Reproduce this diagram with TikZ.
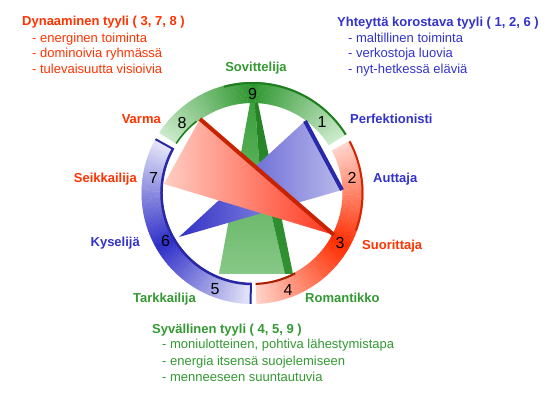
\documentclass[tikz,border=0pt]{standalone}
\usepackage{fontspec}
\setmainfont{Liberation Sans}
\definecolor{txtred}{RGB}{255,51,0}
\definecolor{txtblue}{RGB}{51,51,204}
\definecolor{txtgreen}{RGB}{51,153,51}
\definecolor{ringGdark}{RGB}{45,150,45}
\definecolor{ringGlight}{RGB}{205,235,205}
\definecolor{ringRdark}{RGB}{255,45,0}
\definecolor{ringRlight}{RGB}{255,212,202}
\definecolor{ringBdark}{RGB}{45,45,200}
\definecolor{ringBlight}{RGB}{230,230,248}
\definecolor{edgeG}{RGB}{30,125,30}
\definecolor{edgeR}{RGB}{215,35,0}
\definecolor{edgeRi}{RGB}{170,30,0}
\definecolor{edgeB}{RGB}{40,40,165}
\definecolor{wedgeRlight}{RGB}{255,205,195}
\definecolor{wedgeRdark}{RGB}{255,55,30}
\definecolor{wedgeRline}{RGB}{200,35,0}
\definecolor{wedgeBdark}{RGB}{50,50,200}
\definecolor{wedgeBlight}{RGB}{185,185,235}
\definecolor{wedgeBline}{RGB}{40,40,170}
\definecolor{wedgeGtop}{RGB}{60,160,60}
\definecolor{wedgeGbot}{RGB}{135,200,135}
\definecolor{wedgeGdtop}{RGB}{35,130,35}
\definecolor{wedgeGdbot}{RGB}{50,145,50}
\tikzset{
  titletxt/.style={anchor=west, inner sep=0pt, text height=9.3pt, text depth=0pt, font=\fontsize{13}{13}\selectfont\bfseries},
  itemtxt/.style={anchor=west, inner sep=0pt, text height=9.3pt, text depth=0pt, font=\fontsize{13}{13}\selectfont},
  labtxt/.style={inner sep=0pt, text height=9.3pt, text depth=0pt, font=\fontsize{13}{13}\selectfont\bfseries},
  numtxt/.style={inner sep=0pt, text height=11.5pt, text depth=0pt, font=\fontsize{16}{16}\selectfont},
}
\begin{document}
\begin{tikzpicture}[x=1pt,y=1pt]
\fill[white] (0,0) rectangle (559,399);
\useasboundingbox (0,0) rectangle (559,399);

% ---------- ring ----------
\begin{scope}[shift={(252.5,206)}]
\foreach \a in {32,...,146}{
  \pgfmathtruncatemacro\t{max(0,min(100,100*(1-abs(\a+0.5-90)/58)))}
  \fill[ringGdark!\t!ringGlight] ({\a}:90) arc[start angle=\a, end angle=\a+1.2, radius=90]
     -- ({\a+1.2}:111) arc[start angle=\a+1.2, end angle=\a, radius=111] -- cycle;
}
\foreach \a in {-88,...,27}{
  \pgfmathtruncatemacro\t{max(0,min(100,100*(1-abs(\a+0.5+30)/58)))}
  \fill[ringRdark!\t!ringRlight] ({\a}:90) arc[start angle=\a, end angle=\a+1.2, radius=90]
     -- ({\a+1.2}:111) arc[start angle=\a+1.2, end angle=\a, radius=111] -- cycle;
}
\foreach \a in {151,...,268}{
  \pgfmathtruncatemacro\t{max(0,min(100,100*(1-abs(\a+0.5-210)/59)))}
  \fill[ringBdark!\t!ringBlight] ({\a}:90) arc[start angle=\a, end angle=\a+1.2, radius=90]
     -- ({\a+1.2}:111) arc[start angle=\a+1.2, end angle=\a, radius=111] -- cycle;
}
% edge strokes
\draw[edgeG, line width=2pt] (105:110) arc[start angle=105, end angle=32, radius=110];
\draw[edgeG, line width=1.5pt] (147:91) arc[start angle=147, end angle=128, radius=91];
\draw[edgeR, line width=2pt] (28:110) arc[start angle=28, end angle=-20, radius=110];
\draw[edgeRi, line width=2pt] (-88:91) arc[start angle=-88, end angle=-62, radius=91];
\draw[edgeB, line width=2.5pt] (151:91) arc[start angle=151, end angle=269, radius=91];
\draw[edgeB, line width=2pt] (151:90) -- (151:111);
\draw[edgeB, line width=2pt] (269:90) -- (269:111);
\end{scope}

% ---------- inner wedges ----------
% green (4,5,9)
\shade[top color=wedgeGtop, bottom color=wedgeGbot]
  (250,296) -- (255,296) -- (259,239) -- (285,125) -- (219,125) -- cycle;
\shade[top color=wedgeGdtop, bottom color=wedgeGdbot]
  (255,296) -- (258,296) -- (293,125) -- (285,125) -- (259,239) -- cycle;
% blue (1,2,6)
\shade[left color=wedgeBdark, right color=wedgeBlight]
  (179,162) -- (305,278) -- (342,209) -- cycle;
\draw[wedgeBline, line width=4pt] (305,278) -- (342,209);
% red (3,7,8)
\shade[left color=wedgeRlight, right color=wedgeRdark]
  (200,280) -- (164,215) -- (334,164) -- cycle;
\draw[wedgeRline, line width=4pt] (200,280) -- (334,164);

% ---------- numbers ----------
\node[numtxt] (n9) at (252.5,305) {9};
\node[numtxt] (n1) at (322,277) {1};
\node[numtxt] (n2) at (352,221) {2};
\node[numtxt] (n3) at (340,156) {3};
\node[numtxt] (n4) at (288,109) {4};
\node[numtxt] (n5) at (215,110) {5};
\node[numtxt] (n6) at (165.5,158) {6};
\node[numtxt] (n7) at (153.5,221) {7};
\node[numtxt] (n8) at (182,276) {8};

% ---------- type labels ----------
\node[labtxt, txtgreen] (l9) at (256,332) {Sovittelija};
\node[labtxt, txtblue, anchor=west] (l1) at (350,280) {Perfektionisti};
\node[labtxt, txtblue, anchor=west] (l2) at (373,221) {Auttaja};
\node[labtxt, txtred, anchor=west] (l3) at (362,154) {Suorittaja};
\node[labtxt, txtgreen, anchor=west] (l4) at (305,101) {Romantikko};
\node[labtxt, txtgreen, anchor=east] (l5) at (196,101) {Tarkkailija};
\node[labtxt, txtblue, anchor=east] (l6) at (140,157) {Kyselijä};
\node[labtxt, txtred, anchor=east] (l7) at (137,221) {Seikkailija};
\node[labtxt, txtred, anchor=east] (l8) at (161,280) {Varma};

% ---------- style descriptions ----------
\node[titletxt, txtred] (t1) at (22,378) {Dynaaminen tyyli ( 3, 7, 8 )};
\node[itemtxt, txtred] (t1a) at (32,361) {- energinen toiminta};
\node[itemtxt, txtred] (t1b) at (32,346) {- dominoivia ryhmässä};
\node[itemtxt, txtred] (t1c) at (32,330) {- tulevaisuutta visioivia};

\node[titletxt, txtblue] (t2) at (337,377) {Yhteyttä korostava tyyli ( 1, 2, 6 )};
\node[itemtxt, txtblue] (t2a) at (348,361) {- maltillinen toiminta};
\node[itemtxt, txtblue] (t2b) at (348,346) {- verkostoja luovia};
\node[itemtxt, txtblue] (t2c) at (348,330) {- nyt-hetkessä eläviä};

\node[titletxt, txtgreen] (t3) at (152,70) {Syvällinen tyyli ( 4, 5, 9 )};
\node[itemtxt, txtgreen] (t3a) at (162,55) {- moniulotteinen, pohtiva lähestymistapa};
\node[itemtxt, txtgreen] (t3b) at (162,38) {- energia itsensä suojelemiseen};
\node[itemtxt, txtgreen] (t3c) at (162,22) {- menneeseen suuntautuvia};
\end{tikzpicture}
\end{document}
